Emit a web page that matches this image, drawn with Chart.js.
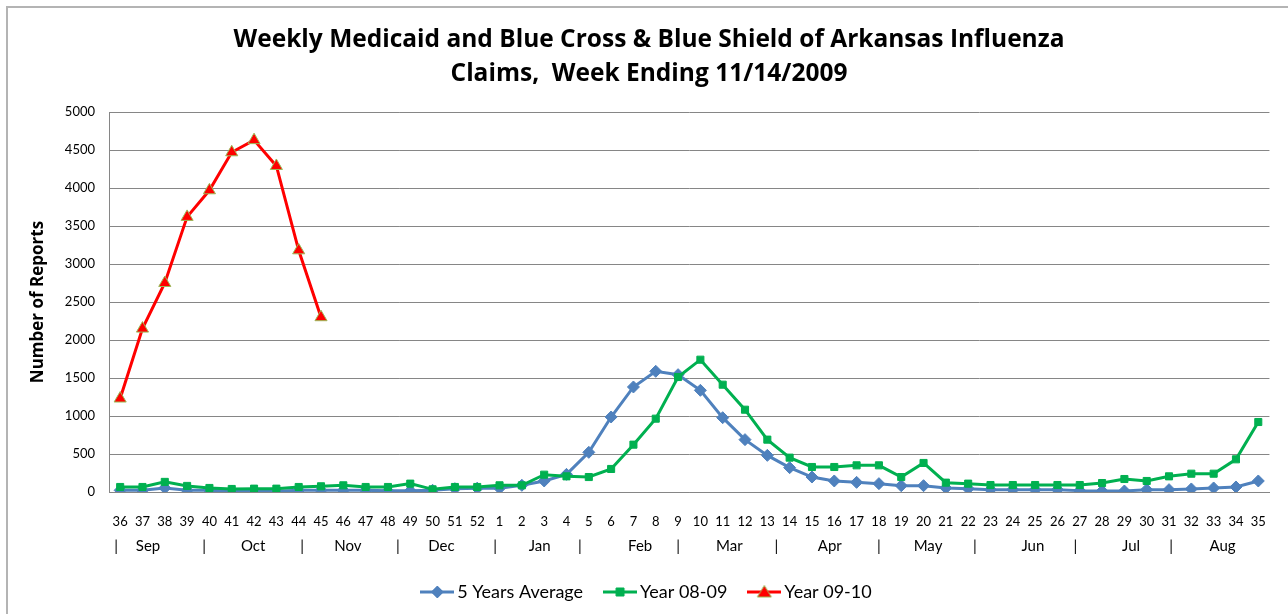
<!DOCTYPE html>
<html>
<head>
<meta charset="utf-8">
<script src="https://cdn.jsdelivr.net/npm/chart.js@4.4.1/dist/chart.umd.min.js"></script>
<style>
html,body{margin:0;padding:0;background:#fff;}
#wrap{width:1288px;height:614px;position:relative;}
</style>
</head>
<body>
<div id="wrap"><canvas id="c" width="1288" height="614"></canvas></div>
<script>
const weeks = ['36','37','38','39','40','41','42','43','44','45','46','47','48','49','50','51','52',
  '1','2','3','4','5','6','7','8','9','10','11','12','13','14','15','16','17','18','19','20',
  '21','22','23','24','25','26','27','28','29','30','31','32','33','34','35'];

const avg5Years = [22,22,53,22,22,13,13,9,22,22,22,22,15,15,22,44,50,
  50,88,145,232,522,987,1382,1588,1544,1338,978,689,482,320,197,145,127,110,83,83,
  53,44,31,31,31,31,18,13,13,31,31,40,53,66,145];

const year0809 = [66,66,133,80,53,40,44,44,66,75,88,66,66,110,35,66,66,
  88,88,228,206,197,303,623,965,1513,1741,1412,1083,689,452,329,329,351,351,197,382,
  123,110,92,92,92,92,92,118,171,145,206,241,241,430,921];

const year0910 = [1230,2150,2750,3620,3970,4470,4630,4290,3180,2300,
  null,null,null,null,null,null,null,null,null,null,null,null,null,null,null,null,
  null,null,null,null,null,null,null,null,null,null,null,null,null,null,null,null,
  null,null,null,null,null,null,null,null,null,null];

const yTicks = [0,500,1000,1500,2000,2500,3000,3500,4000,4500,5000];

const months = ['Sep','Oct','Nov','Dec','Jan','Feb','Mar','Apr','May','Jun','Jul','Aug'];
const monthCenters = [1.25,5.96,10.2,14.4,18.8,23.3,27.3,31.8,36.2,40.9,45.3,49.4];
const monthDividers = [-0.18,3.76,8.15,12.45,16.8,20.6,25.0,29.4,34.0,38.3,42.8,47.1];

const seriesNames = ['5 Years Average','Year 08-09','Year 09-10'];

const FONT = 'Lato, "Open Sans", sans-serif';
const FONT_BOLD = '"Open Sans", Lato, sans-serif';
const BLUE = '#4F81BD', GREEN = '#00B050', RED = '#FF0000', OLIVE = '#9BBB59';

function legendIcon(color, style, markerFill, markerBorder) {
  const cv = document.createElement('canvas');
  cv.width = 34; cv.height = 16;
  const g = cv.getContext('2d');
  g.strokeStyle = color; g.lineWidth = 3;
  g.beginPath(); g.moveTo(0, 8); g.lineTo(34, 8); g.stroke();
  g.fillStyle = markerFill; g.strokeStyle = markerBorder; g.lineWidth = 1;
  g.beginPath();
  if (style === 'diamond') { g.moveTo(17,2); g.lineTo(23,8); g.lineTo(17,14); g.lineTo(11,8); g.closePath(); }
  else if (style === 'square') { g.rect(13,4,8,8); }
  else { g.moveTo(17,1.5); g.lineTo(24,13); g.lineTo(10,13); g.closePath(); }
  g.fill(); g.stroke();
  return cv;
}
const icons = [legendIcon(BLUE,'diamond',BLUE,BLUE), legendIcon(GREEN,'square',GREEN,GREEN), legendIcon(RED,'triangle',RED,OLIVE)];

const extras = {
  id: 'extras',
  afterDraw(chart) {
    const ctx = chart.ctx;
    const xs = chart.scales.x;
    const p0 = xs.getPixelForValue(0), p1 = xs.getPixelForValue(1);
    const pos = v => p0 + v * (p1 - p0);
    ctx.save();
    ctx.fillStyle = '#000';
    ctx.font = '15px ' + FONT;
    ctx.textAlign = 'center';
    ctx.textBaseline = 'middle';
    months.forEach((m, i) => ctx.fillText(m, pos(monthCenters[i]), 546));
    monthDividers.forEach(d => ctx.fillText('|', pos(d), 546));
    // frame
    ctx.strokeStyle = '#B4B4B4';
    ctx.lineWidth = 2;
    ctx.beginPath();
    ctx.moveTo(1288, 7); ctx.lineTo(7, 7); ctx.lineTo(7, 614);
    ctx.stroke();
    ctx.restore();
  }
};

new Chart(document.getElementById('c'), {
  type: 'line',
  data: {
    labels: weeks,
    datasets: [
      { label: seriesNames[0], data: avg5Years, borderColor: BLUE, backgroundColor: BLUE,
        borderWidth: 3, pointStyle: 'rectRot', pointRadius: 6, pointBorderColor: BLUE,
        pointBackgroundColor: BLUE, pointBorderWidth: 1, order: 3 },
      { label: seriesNames[1], data: year0809, borderColor: GREEN, backgroundColor: GREEN,
        borderWidth: 3, pointStyle: 'rect', pointRadius: 5, pointBorderColor: GREEN,
        pointBackgroundColor: GREEN, pointBorderWidth: 1, order: 2 },
      { label: seriesNames[2], data: year0910, borderColor: RED, backgroundColor: RED,
        borderWidth: 3, pointStyle: 'triangle', pointRadius: 7, pointBorderColor: OLIVE,
        pointBackgroundColor: RED, pointBorderWidth: 1, order: 1, spanGaps: false }
    ]
  },
  options: {
    responsive: false,
    animation: false,
    events: [],
    layout: { padding: { left: 28, right: 18, top: 0, bottom: 3 } },
    elements: { line: { tension: 0 } },
    plugins: {
      tooltip: { enabled: false },
      title: {
        display: true,
        text: ['Weekly Medicaid and Blue Cross & Blue Shield of Arkansas Influenza', 'Claims,  Week Ending 11/14/2009'],
        color: '#000',
        font: { family: FONT_BOLD, size: 24.5, weight: 'bold', lineHeight: 1.388 },
        padding: { top: 23, bottom: 21 }
      },
      legend: {
        position: 'bottom',
        labels: {
          color: '#000',
          font: { family: FONT, size: 18 },
          usePointStyle: true,
          pointStyleWidth: 22,
          padding: 26,
          generateLabels(chart) {
            return chart.data.datasets.map((ds, i) => ({
              text: ds.label, pointStyle: icons[i], fillStyle: ds.borderColor,
              strokeStyle: ds.borderColor, lineWidth: 0, hidden: false, datasetIndex: i, fontColor: '#000'
            }));
          }
        }
      }
    },
    scales: {
      x: {
        type: 'category',
        offset: true,
        grid: { display: false, drawTicks: false },
        border: { display: true, color: '#868686', width: 1 },
        ticks: { color: '#000', font: { family: FONT, size: 13 }, autoSkip: false, maxRotation: 0, minRotation: 0, padding: 22 },
        afterFit(s) { s.height = 65; }
      },
      y: {
        min: 0, max: 5000,
        afterBuildTicks(s) { s.ticks = yTicks.map(v => ({ value: v })); },
        grid: { color: '#868686', lineWidth: 1, drawTicks: false },
        border: { display: true, color: '#868686', width: 1 },
        ticks: { color: '#000', font: { family: FONT, size: 13 }, padding: 14, callback: v => String(v) },
        title: { display: true, text: 'Number of Reports', color: '#000', font: { family: FONT_BOLD, size: 17, weight: 'bold' }, padding: 0 },
        afterFit(s) { s.width = 81; }
      }
    }
  },
  plugins: [extras]
});
</script>
</body>
</html>
